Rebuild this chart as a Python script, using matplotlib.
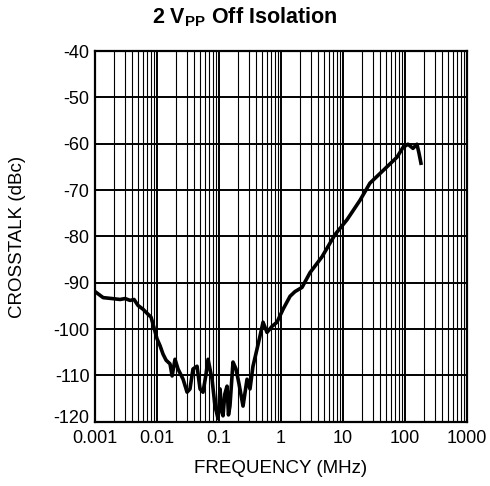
import matplotlib
matplotlib.use("Agg")
import matplotlib.pyplot as plt
import matplotlib.transforms as mtransforms
from matplotlib.ticker import LogLocator, FixedLocator, NullFormatter

plt.rcParams['font.family'] = ['Liberation Sans', 'DejaVu Sans']

freq_mhz = [0.001, 0.00135, 0.00188, 0.00253, 0.00305, 0.00367, 0.00426, 0.00494,
            0.00594, 0.00716, 0.0080, 0.0086, 0.010, 0.0112, 0.0125, 0.0140, 0.0162,
            0.0175, 0.0195, 0.0218, 0.0263, 0.0305, 0.034, 0.038, 0.0442, 0.0494,
            0.0552, 0.0617, 0.0665, 0.0771, 0.0861, 0.0964, 0.1038, 0.110, 0.116,
            0.124, 0.1346, 0.142, 0.150, 0.168, 0.188, 0.210, 0.244, 0.283, 0.316,
            0.353, 0.41, 0.458, 0.513, 0.594, 0.716, 0.861, 1.08, 1.40, 1.68, 2.18,
            2.94, 4.58, 7.43, 11.6, 18.8, 27.2, 44.2, 74.3, 92.9, 111.7, 134.6, 156,
            168, 181]
crosstalk_dbc = [-91.9, -93.2, -93.4, -93.6, -93.4, -93.8, -93.6, -94.9,
                 -95.7, -96.8, -97.4, -98.9, -102.1, -103.6, -105.4, -106.7, -107.5,
                 -110.1, -106.5, -108.6, -110.8, -113.6, -112.9, -108.6, -108.0, -112.9,
                 -113.6, -109.7, -106.5, -110.8, -116.6, -119.3, -112.9, -117.5, -118.7,
                 -114.0, -112.3, -118.5, -116.6, -107.1, -108.6, -111.8, -116.6, -110.8,
                 -112.9, -108.0, -104.3, -101.5, -98.5, -100.7, -99.4, -98.5, -95.7,
                 -92.9, -91.9, -91.0, -87.8, -84.4, -79.6, -76.4, -72.2, -68.5, -65.8,
                 -62.9, -60.8, -60.1, -61.0, -60.1, -62.0, -64.2]

x_ticks = [0.001, 0.01, 0.1, 1, 10, 100, 1000]
x_tick_labels = ["0.001", "0.01", "0.1", "1", "10", "100", "1000"]
y_ticks = [-40, -50, -60, -70, -80, -90, -100, -110, -120]

fig = plt.figure(figsize=(4.9, 4.86), dpi=100)
ax = fig.add_axes([0.194, 0.132, 0.759, 0.763])

ax.plot(freq_mhz, crosstalk_dbc, color='black', lw=2.6, solid_joinstyle='round', zorder=3)

ax.set_xscale('log')
ax.set_xlim(0.001, 1000)
ax.set_ylim(-120, -40)
ax.xaxis.set_major_locator(FixedLocator(x_ticks))
ax.set_xticklabels(x_tick_labels)
ax.xaxis.set_minor_locator(LogLocator(base=10, subs=range(2, 10), numticks=100))
ax.xaxis.set_minor_formatter(NullFormatter())
ax.set_yticks(y_ticks)
ax.set_yticklabels([str(v) for v in y_ticks])

ax.grid(which='major', axis='both', color='black', lw=1.4)
ax.grid(which='minor', axis='x', color='black', lw=0.8)
ax.tick_params(which='both', length=0, labelsize=13)
ax.tick_params(axis='x', pad=6)
ax.tick_params(axis='y', pad=4)
for s in ax.spines.values():
    s.set_linewidth(1.6)

# lift the lowest y tick label slightly, as in the reference
for lbl in ax.get_yticklabels():
    if lbl.get_text() == "-120":
        lbl.set_transform(lbl.get_transform() +
                          mtransforms.ScaledTranslation(0, 5 / 100, fig.dpi_scale_trans))

cx = 0.194 + 0.759 / 2
cy = 0.132 + 0.763 / 2
fig.text(cx, 0.036, "FREQUENCY (MHz)", ha='center', va='center', fontsize=13.5)
fig.text(18 / 490, cy, "CROSSTALK (dBc)", ha='center', va='center', rotation=90, fontsize=13.5)
fig.text(0.5, 0.965, r"2 V$_{\mathregular{PP}}$ Off Isolation", ha='center', va='center',
         fontsize=15.5, fontweight='bold')

fig.savefig("out.png", dpi=100)
